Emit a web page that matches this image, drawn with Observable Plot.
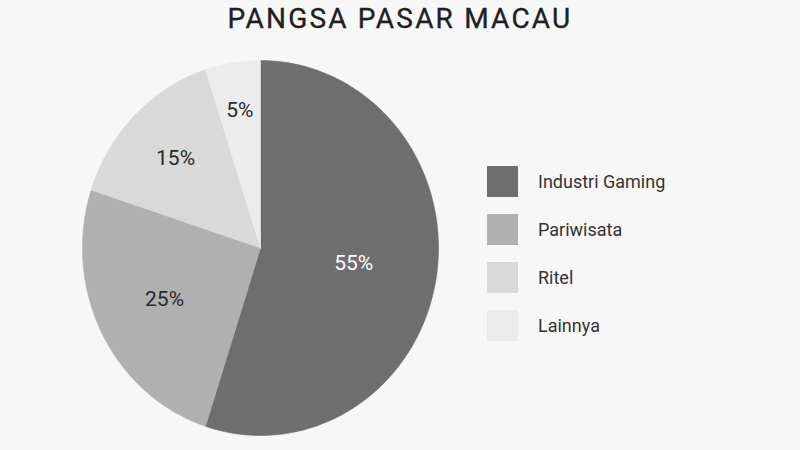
<!DOCTYPE html>
<html>
<head>
<meta charset="utf-8">
<script src="https://cdn.jsdelivr.net/npm/d3@7"></script>
<script src="https://cdn.jsdelivr.net/npm/@observablehq/plot@0.6"></script>
<style>
  html, body { margin: 0; padding: 0; background: #f7f7f7; }
  body { width: 800px; height: 450px; overflow: hidden; font-family: Roboto, sans-serif; }
  #title { height: 45px; box-sizing: border-box; padding-top: 1px; margin: 0; text-align: center;
           font-size: 28px; line-height: 36px; font-weight: 400; letter-spacing: 2.2px; color: #1f1f1f;
           -webkit-text-stroke: 0.35px #1f1f1f; }
  #wrap { position: relative; width: 800px; height: 405px; }
  #legend { position: absolute; left: 487px; top: 121px; }
  #legend .lg-swatches { font-family: Roboto, sans-serif !important; font-size: 18px !important; color: #333 !important; margin: 0 !important; columns: auto !important; width: auto !important; }
  #legend .lg-swatch { display: flex !important; align-items: center !important; padding-bottom: 0 !important; margin-bottom: 17px !important; }
  #legend .lg-swatch > svg { margin-right: 20px !important; }
  #legend .lg-swatch-label { max-width: none !important; overflow: visible !important; }
</style>
</head>
<body>
<div id="title">PANGSA PASAR MACAU</div>
<div id="wrap"><div id="legend"></div></div>
<script>
const categories = ["Industri Gaming", "Pariwisata", "Ritel", "Lainnya"];
const values = [55, 25, 15, 5];
const colors = ["#6e6e6e", "#b0b0b0", "#d9d9d9", "#ececec"];

const total = d3.sum(values);
const arcs = d3.pie().sort(null).value((d, i) => values[i])(categories);

// slice outlines (computed from the values)
const pts = [];
arcs.forEach(a => {
  const n = Math.max(4, Math.ceil((a.endAngle - a.startAngle) * 60));
  pts.push({category: a.data, x: 0, y: 0});
  for (let k = 0; k <= n; k++) {
    const t = a.startAngle + (a.endAngle - a.startAngle) * k / n;
    pts.push({category: a.data, x: Math.sin(t), y: Math.cos(t)});
  }
  pts.push({category: a.data, x: 0, y: 0});
});

// label distance: narrower slices get labels further out
const labels = arcs.map((a, i) => {
  const m = (a.startAngle + a.endAngle) / 2;
  const share = values[i] / total;
  const r = Math.max(0.53, 0.78 - 0.7 * share);
  return {category: a.data, value: values[i], x: r * Math.sin(m), y: r * Math.cos(m),
          dark: d3.lab(colors[i]).l < 55};
});

const plot = Plot.plot({
  width: 800,
  height: 405,
  margin: 0,
  x: {domain: [-1, 1], range: [82, 438], axis: null},
  y: {domain: [-1, 1], range: [390, 15], axis: null},
  color: {domain: categories, range: colors},
  style: {background: "transparent", fontFamily: "Roboto, sans-serif", fontSize: "21px", overflow: "visible"},
  marks: [
    Plot.line(pts, {x: "x", y: "y", z: "category", fill: "category", stroke: "category", strokeWidth: 0.6, curve: "linear"}),
    Plot.text(labels, {filter: d => d.dark, x: "x", y: "y", text: d => d.value + "%", fill: "white", fontSize: 21}),
    Plot.text(labels, {filter: d => !d.dark, x: "x", y: "y", text: d => d.value + "%", fill: "#2b2b2b", fontSize: 21})
  ]
});
document.getElementById("wrap").prepend(plot);

const legend = Plot.legend({
  legend: "swatches",
  color: {domain: categories, range: colors},
  swatchSize: 31,
  columns: 1,
  className: "lg"
});
document.getElementById("legend").appendChild(legend);
</script>
</body>
</html>
